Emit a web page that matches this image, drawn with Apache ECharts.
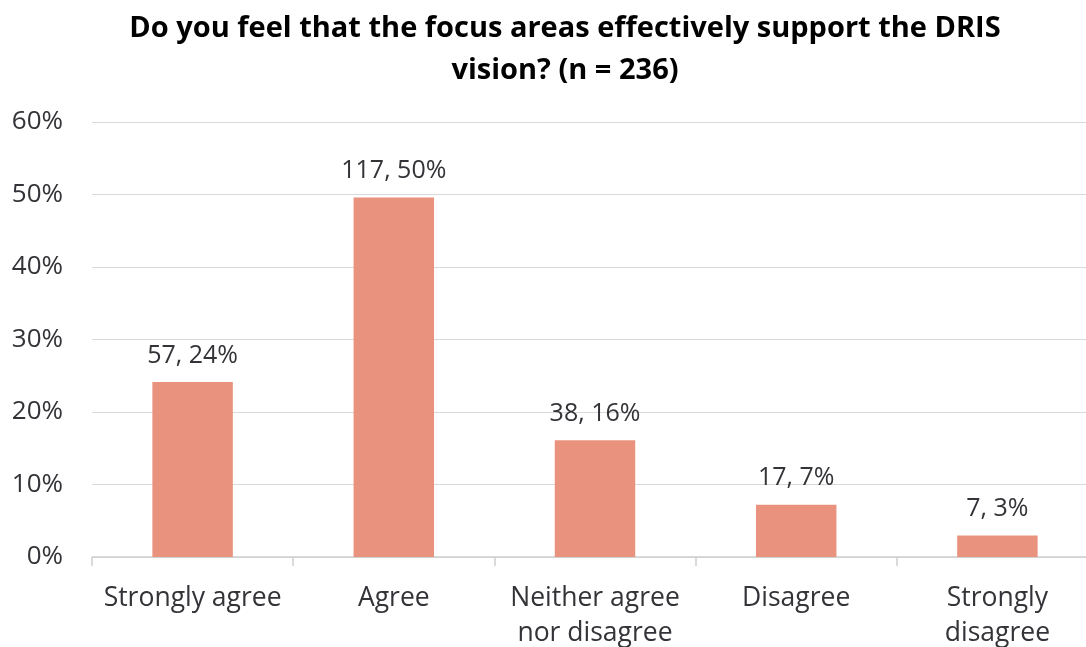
<!DOCTYPE html>
<html>
<head>
<meta charset="utf-8">
<script src="https://cdn.jsdelivr.net/npm/echarts@6/dist/echarts.min.js"></script>
<style>
  html, body { margin: 0; padding: 0; background: #fff; }
  #container { width: 1086px; height: 647px; }
</style>
</head>
<body>
<div id="container"></div>
<script>
// survey answers
var categories = ['Strongly agree', 'Agree', 'Neither agree\nnor disagree', 'Disagree', 'Strongly\ndisagree'];
var counts = [57, 117, 38, 17, 7];
var percents = [24.15, 49.58, 16.10, 7.20, 2.97];
var yTicks = [0, 10, 20, 30, 40, 50, 60];

var dom = document.getElementById('container');
var myChart = echarts.init(dom);

var seriesData = percents.map(function (p, i) {
    return { value: p, count: counts[i] };
});

var option = {
    animation: false,
    textStyle: { fontFamily: 'Open Sans' },
    title: {
        text: 'Do you feel that the focus areas effectively support the DRIS\nvision? (n = 236)',
        left: 560,
        top: 3,
        textAlign: 'center',
        textStyle: {
            fontFamily: 'Open Sans',
            fontWeight: 'bold',
            fontSize: 29,
            lineHeight: 42,
            color: '#000'
        }
    },
    grid: {
        left: 92,
        width: 1006,   // last category runs past the right edge
        top: 122,
        height: 435,
        containLabel: false,
        outerBoundsMode: 'none'
    },
    xAxis: {
        type: 'category',
        data: categories,
        axisLine: { lineStyle: { color: '#d0d0d0', width: 1.5 } },
        axisTick: { show: true, length: 9, lineStyle: { color: '#d0d0d0', width: 1.5 } },
        axisLabel: {
            color: '#333338',
            fontSize: 26.5,
            lineHeight: 35,
            margin: 24,
            interval: 0
        }
    },
    yAxis: {
        type: 'value',
        min: yTicks[0],
        max: yTicks[yTicks.length - 1],
        interval: 10,
        axisLine: { show: false },
        axisTick: { show: false },
        axisLabel: {
            color: '#333338',
            fontSize: 26,
            margin: 29,
            formatter: '{value}%'
        },
        splitLine: { lineStyle: { color: '#d9d9d9', width: 1.2 } }
    },
    series: [{
        type: 'bar',
        data: seriesData,
        barWidth: '40%',
        itemStyle: { color: '#e9937f' },
        label: {
            show: true,
            position: 'top',
            distance: 14,
            color: '#333338',
            fontSize: 25,
            formatter: function (p) {
                return p.data.count + ', ' + Math.round(p.value) + '%';
            }
        }
    }]
};

myChart.setOption(option);
</script>
</body>
</html>
